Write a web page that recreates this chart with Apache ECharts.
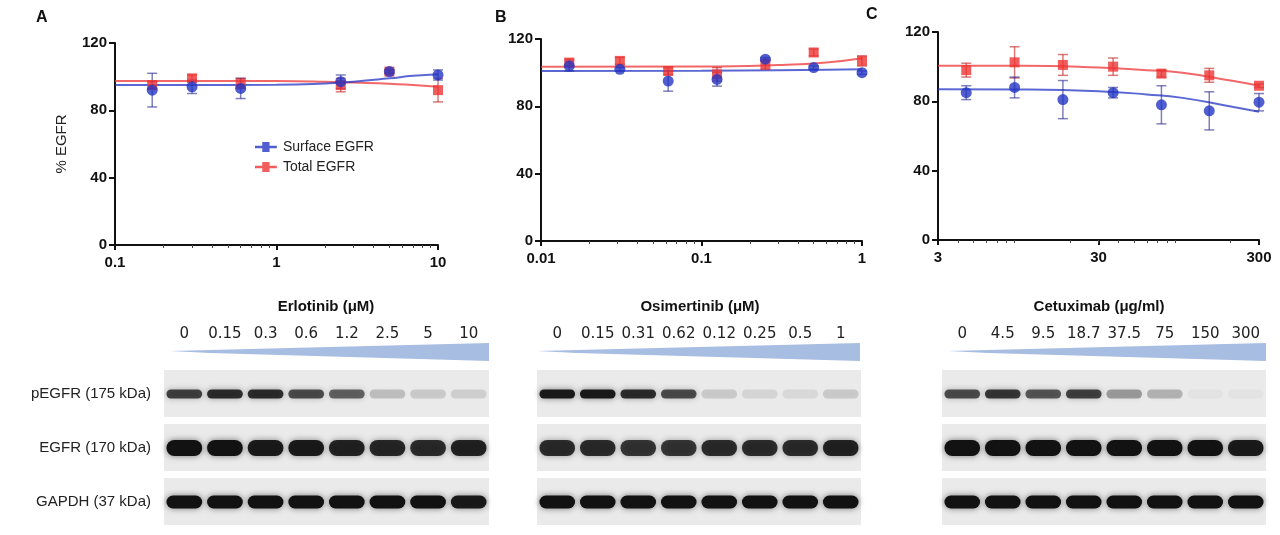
<!DOCTYPE html>
<html>
<head>
<meta charset="utf-8">
<script src="https://cdn.jsdelivr.net/npm/echarts@6/dist/echarts.min.js"></script>
<style>html,body{margin:0;background:#fff}#main{width:1280px;height:535px}</style>
</head>
<body>
<div id="main"></div>
<script>
// dose-response data (mean, error)
const xA = [0.17, 0.3, 0.6, 2.5, 5, 10]
const surfA = [92, 94, 93, 97, 103, 101]
const surfAErr = [10, 4, 6, 4, 1, 3]
const totA = [95, 99, 96, 95, 103, 92]
const totAErr = [2, 2, 3, 4, 1, 7]
const fitXA = [0.1, 0.3, 1, 2, 3, 5, 7, 10]
const fitSurfA = [95, 95, 95.2, 96, 97, 99, 100.5, 101.5]
const fitTotA = [97.5, 97.5, 97.4, 97, 96.5, 95.8, 95, 94]

const xB = [0.015, 0.031, 0.062, 0.125, 0.25, 0.5, 1]
const surfB = [104, 102, 95, 96, 108, 103, 100]
const surfBErr = [3, 1, 6, 4, 1, 1, 1]
const totB = [106, 107, 101, 99, 105, 112, 107]
const totBErr = [2, 2, 2, 4, 3, 2, 3]
const fitXB = [0.01, 0.1, 0.3, 0.6, 1]
const fitSurfB = [101, 101.2, 101.5, 101.8, 102]
const fitTotB = [103.5, 103.6, 104.5, 106, 108.5]

const xC = [4.5, 9, 18, 37, 74, 147, 300]
const surfC = [85, 88, 81, 85, 78, 74.5, 79.5]
const surfCErr = [4, 6, 11, 3, 11, 11, 5]
const totC = [98, 102.5, 101, 100, 96, 95, 89]
const totCErr = [4, 9, 6, 5, 2, 4, 1]
const fitXC = [3, 10, 30, 60, 100, 200, 300]
const fitSurfC = [87, 86.8, 85.8, 84, 82, 77, 74]
const fitTotC = [100.5, 100.5, 99.5, 98, 96.5, 92, 89]

// western blot lanes and band intensities (0-1)
const rows = ['pEGFR (175 kDa)', 'EGFR (170 kDa)', 'GAPDH (37 kDa)']
const lanesA = ['0', '0.15', '0.3', '0.6', '1.2', '2.5', '5', '10']
const lanesB = ['0', '0.15', '0.31', '0.62', '0.12', '0.25', '0.5', '1']
const lanesC = ['0', '4.5', '9.5', '18.7', '37.5', '75', '150', '300']
const bandsA = [
  [0.75, 0.85, 0.85, 0.7, 0.6, 0.2, 0.15, 0.12],
  [1, 1, 0.95, 0.95, 0.9, 0.88, 0.85, 0.9],
  [1, 1, 1, 1, 1, 1, 1, 0.95]
]
const bandsB = [
  [0.95, 0.95, 0.85, 0.7, 0.15, 0.1, 0.08, 0.15],
  [0.85, 0.85, 0.8, 0.8, 0.85, 0.85, 0.85, 0.9],
  [1, 1, 1, 1, 1, 1, 1, 1]
]
const bandsC = [
  [0.7, 0.8, 0.65, 0.75, 0.35, 0.25, 0.03, 0.03],
  [1, 1, 1, 1, 1, 1, 1, 0.95],
  [1, 1, 1, 1, 1, 1, 1, 1]
]
const bandHeight = [9, 16, 13]

const BLUE = '#2436c4'
const RED = '#ee3535'
const F = 'Arial, "Liberation Sans", sans-serif'

const zip = (xs, ys) => xs.map((x, i) => [x, ys[i]])
const zip3 = (xs, ys, es) => xs.map((x, i) => [x, ys[i], es[i]])

function errBars (gi, data, color) {
  return {
    type: 'custom', xAxisIndex: gi, yAxisIndex: gi, data: data, z: 3,
    renderItem: (params, api) => {
      const x = api.value(0), y = api.value(1), e = api.value(2)
      const hi = api.coord([x, y + e]), lo = api.coord([x, y - e])
      const w = 5
      return {
        type: 'group',
        children: [
          { type: 'line', shape: { x1: hi[0], y1: hi[1], x2: lo[0], y2: lo[1] }, style: { stroke: color, lineWidth: 1.5, opacity: 0.6 } },
          { type: 'line', shape: { x1: hi[0] - w, y1: hi[1], x2: hi[0] + w, y2: hi[1] }, style: { stroke: color, lineWidth: 1.5, opacity: 0.6 } },
          { type: 'line', shape: { x1: lo[0] - w, y1: lo[1], x2: lo[0] + w, y2: lo[1] }, style: { stroke: color, lineWidth: 1.5, opacity: 0.6 } }
        ]
      }
    }
  }
}

function panelSeries (gi, xs, surf, surfErr, tot, totErr, fitX, fitS, fitT) {
  return [
    { type: 'line', xAxisIndex: gi, yAxisIndex: gi, data: zip(fitX, fitT), smooth: true, showSymbol: false, lineStyle: { color: RED, width: 2, opacity: 0.75 }, z: 2, silent: true },
    { type: 'line', xAxisIndex: gi, yAxisIndex: gi, data: zip(fitX, fitS), smooth: true, showSymbol: false, lineStyle: { color: BLUE, width: 2, opacity: 0.75 }, z: 2, silent: true },
    errBars(gi, zip3(xs, tot, totErr), '#c02020'),
    errBars(gi, zip3(xs, surf, surfErr), '#2a2a90'),
    { name: 'Total EGFR', type: 'scatter', xAxisIndex: gi, yAxisIndex: gi, data: zip(xs, tot), symbol: 'rect', symbolSize: 10, itemStyle: { color: RED, opacity: 0.8 }, z: 4 },
    { name: 'Surface EGFR', type: 'scatter', xAxisIndex: gi, yAxisIndex: gi, data: zip(xs, surf), symbol: 'circle', symbolSize: 11, itemStyle: { color: BLUE, opacity: 0.8 }, z: 5 }
  ]
}

function blotSeries (gi, bands) {
  const bg = {
    type: 'custom', xAxisIndex: gi, yAxisIndex: gi, data: rows.map((r, i) => [0, i]), z: 1, silent: true,
    renderItem: (params, api) => {
      const c = api.coord([0, api.value(1)])
      const h = api.size([1, 1])[1]
      const cs = params.coordSys
      return { type: 'rect', shape: { x: cs.x, y: c[1] - h / 2 + 3, width: cs.width, height: h - 7 }, style: { fill: '#eaeaea' } }
    }
  }
  const data = []
  bands.forEach((row, r) => row.forEach((v, l) => data.push([l, r, v])))
  const b = {
    type: 'custom', xAxisIndex: gi, yAxisIndex: gi, data: data, z: 2, silent: true,
    renderItem: (params, api) => {
      const c = api.coord([api.value(0), api.value(1)])
      const lw = api.size([1, 1])[0]
      const r = api.value(1)
      const h = bandHeight[r]
      const v = api.value(2)
      return {
        type: 'rect',
        shape: { x: c[0] - lw * 0.44, y: c[1] - h / 2, width: lw * 0.88, height: h, r: h / 2 },
        style: { fill: 'rgba(18,18,18,' + v + ')', shadowBlur: 6, shadowColor: 'rgba(0,0,0,' + v * 0.5 + ')' }
      }
    }
  }
  return [bg, b]
}

const plotGrids = [
  { left: 115, top: 43, width: 323, height: 202 },
  { left: 541, top: 39, width: 321, height: 202 },
  { left: 938, top: 32, width: 321, height: 208 }
]
const blotGrids = [
  { left: 164, top: 367, width: 325, height: 162 },
  { left: 537, top: 367, width: 324, height: 162 },
  { left: 942, top: 367, width: 324, height: 162 }
]
const xRanges = [[0.1, 10, [0.1, 1, 10]], [0.01, 1, [0.01, 0.1, 1]], [3, 300, [3, 30, 300]]]

const xAxes = xRanges.map((r, i) => ({
  type: 'log', logBase: 10, gridIndex: i, min: r[0], max: r[1],
  axisLine: { lineStyle: { color: '#111', width: 2 } },
  axisTick: { show: true, length: 5, lineStyle: { width: 2, color: '#111' }, customValues: r[2] },
  minorTick: { show: true, splitNumber: 9, length: 3, lineStyle: { color: '#444' } },
  axisLabel: { customValues: r[2], color: '#111', fontWeight: 'bold', fontSize: 15, fontFamily: F, margin: 10, formatter: v => String(+v.toPrecision(3)) },
  splitLine: { show: false }
}))
const yAxes = [0, 1, 2].map(i => ({
  type: 'value', gridIndex: i, min: 0, max: 120, interval: 40,
  name: i === 0 ? '% EGFR' : '', nameLocation: 'middle', nameGap: 46, nameRotate: 90,
  nameTextStyle: { fontSize: 15, color: '#222', fontFamily: F },
  axisLine: { show: true, lineStyle: { color: '#111', width: 2 } },
  axisTick: { show: true, length: 6, lineStyle: { width: 2, color: '#111' } },
  axisLabel: { color: '#111', fontWeight: 'bold', fontSize: 15, fontFamily: F, margin: 8 },
  splitLine: { show: false }
}))
;[lanesA, lanesB, lanesC].forEach((lanes, i) => {
  xAxes.push({
    type: 'category', gridIndex: 3 + i, data: lanes, position: 'top',
    axisLine: { show: false }, axisTick: { show: false },
    axisLabel: { interval: 0, color: '#222', fontSize: 15, fontFamily: '"DejaVu Sans", sans-serif', margin: 25 }
  })
  yAxes.push({
    type: 'category', gridIndex: 3 + i, data: rows, inverse: true,
    axisLine: { show: false }, axisTick: { show: false },
    axisLabel: { show: i === 0, color: '#222', fontSize: 15, fontFamily: F, margin: 13 }
  })
})

let series = []
series = series.concat(panelSeries(0, xA, surfA, surfAErr, totA, totAErr, fitXA, fitSurfA, fitTotA))
series = series.concat(panelSeries(1, xB, surfB, surfBErr, totB, totBErr, fitXB, fitSurfB, fitTotB))
series = series.concat(panelSeries(2, xC, surfC, surfCErr, totC, totCErr, fitXC, fitSurfC, fitTotC))
series = series.concat(blotSeries(3, bandsA), blotSeries(4, bandsB), blotSeries(5, bandsC))

const wedge = (x0, x1) => ({
  type: 'polygon', silent: true,
  shape: { points: [[x0, 351], [x1, 343], [x1, 361], [x0 + 40, 353]] },
  style: { fill: '#a8bde2' }
})
const txt = (x, y, s, size, align) => ({
  type: 'text', x: x, y: y, silent: true,
  style: { text: s, font: 'bold ' + size + 'px ' + F, fill: '#111', textAlign: align || 'left', textVerticalAlign: 'middle' }
})

const myChart = echarts.init(document.getElementById('main'))
myChart.setOption({
  animation: false,
  grid: plotGrids.concat(blotGrids),
  xAxis: xAxes,
  yAxis: yAxes,
  legend: {
    data: ['Surface EGFR', 'Total EGFR'], orient: 'vertical', left: 250, top: 135,
    itemWidth: 24, itemHeight: 10, itemGap: 6,
    icon: 'path://M0,4h8v-4h8v4h8v3h-8v4h-8v-4h-8z',
    textStyle: { fontSize: 14, color: '#222', fontFamily: F }
  },
  series: series,
  graphic: [
    txt(36, 18, 'A', 16), txt(495, 18, 'B', 16), txt(866, 15, 'C', 16),
    txt(326, 307, 'Erlotinib (μM)', 15, 'center'),
    txt(700, 307, 'Osimertinib (μM)', 15, 'center'),
    txt(1099, 307, 'Cetuximab (μg/ml)', 15, 'center'),
    wedge(170, 489), wedge(537, 860), wedge(948, 1266)
  ]
})
</script>
</body>
</html>
